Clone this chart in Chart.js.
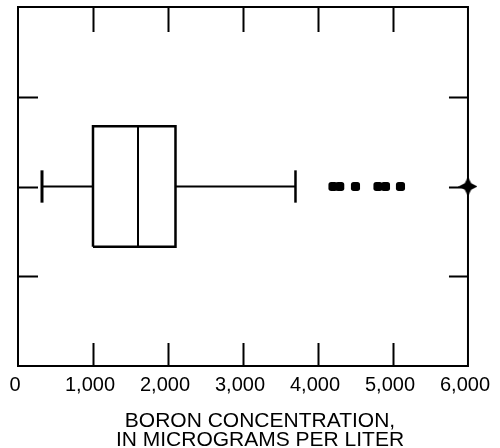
<!DOCTYPE html>
<html>
<head>
<meta charset="utf-8">
<script src="https://cdn.jsdelivr.net/npm/chart.js@4"></script>
<style>
  html, body { margin: 0; padding: 0; background: #fff; }
  #wrap { width: 500px; height: 448px; }
</style>
</head>
<body>
<div id="wrap"><canvas id="chart"></canvas></div>
<script>
// Boron concentration, in micrograms per liter
const xTickValues = [0, 1000, 2000, 3000, 4000, 5000, 6000];
const xTickLabels = ['0', '1,000', '2,000', '3,000', '4,000', '5,000', '6,000'];
const axisTitle = ['BORON CONCENTRATION,', 'IN MICROGRAMS PER LITER'];

// Box plot summary
const whiskerLow = 320;
const quartile1 = 1000;
const median = 1600;
const quartile3 = 2100;
const whiskerHigh = 3700;
const outliers = [4200, 4290, 4500, 4800, 4900, 5100];
const extremes = [6000];

// Layout of the single box on a 0..4 vertical scale
const ROW = 2;
const BOX_HALF = 0.67;
const CAP_HALF = 0.18;
const sideTicks = [1, 2, 3];

const FONT = "'Liberation Sans', Arial, Helvetica, sans-serif";

/**
 * Four pointed star used for the extreme value
 */
function makeStar(size) {
    const c = document.createElement('canvas');
    c.width = size;
    c.height = size;
    const g = c.getContext('2d');
    const m = size / 2;
    const k = size * 0.17;
    g.beginPath();
    g.moveTo(m, 0);
    g.lineTo(m + k, m - k);
    g.lineTo(size, m);
    g.lineTo(m + k, m + k);
    g.lineTo(m, size);
    g.lineTo(m - k, m + k);
    g.lineTo(0, m);
    g.lineTo(m - k, m - k);
    g.closePath();
    g.fillStyle = '#000';
    g.fill();
    return c;
}

function segment(points, width) {
    return {
        data: points,
        showLine: true,
        borderColor: '#000',
        borderWidth: width,
        pointRadius: 0,
        tension: 0,
        borderJoinStyle: 'miter',
        clip: false
    };
}

// Frame, inward tick marks and the two-line axis title
const framePlugin = {
    id: 'framePlugin',
    afterDatasetsDraw(chart) {
        const ctx = chart.ctx;
        const a = chart.chartArea;
        const xs = chart.scales.x;
        const ys = chart.scales.y;
        ctx.save();
        ctx.strokeStyle = '#000';
        ctx.lineWidth = 2;
        ctx.strokeRect(a.left, a.top, a.right - a.left, a.bottom - a.top);

        ctx.beginPath();
        xTickValues.slice(1, -1).forEach(v => {
            const px = Math.round(xs.getPixelForValue(v)) + 0.5;
            ctx.moveTo(px, a.top);
            ctx.lineTo(px, a.top + 25);
            ctx.moveTo(px, a.bottom);
            ctx.lineTo(px, a.bottom - 23);
        });
        sideTicks.forEach(v => {
            const py = Math.round(ys.getPixelForValue(v)) + 0.5;
            ctx.moveTo(a.left, py);
            ctx.lineTo(a.left + 20, py);
            ctx.moveTo(a.right, py);
            ctx.lineTo(a.right - 19, py);
        });
        ctx.stroke();

        ctx.fillStyle = '#000';
        ctx.font = '21px ' + FONT;
        ctx.textAlign = 'center';
        ctx.textBaseline = 'alphabetic';
        ctx.fillText(axisTitle[0], 260, 427);
        ctx.fillText(axisTitle[1], 260, 446);
        ctx.restore();
    }
};

document.addEventListener('DOMContentLoaded', function() {
    const ctx = document.getElementById('chart');

    const boxOutline = [
        { x: quartile1, y: ROW - BOX_HALF },
        { x: quartile3, y: ROW - BOX_HALF },
        { x: quartile3, y: ROW + BOX_HALF },
        { x: quartile1, y: ROW + BOX_HALF },
        { x: quartile1, y: ROW - BOX_HALF }
    ];

    new Chart(ctx, {
        type: 'scatter',
        data: {
            datasets: [
                segment(boxOutline, 2.5),
                segment([{ x: median, y: ROW - BOX_HALF }, { x: median, y: ROW + BOX_HALF }], 2),
                segment([{ x: whiskerLow, y: ROW }, { x: quartile1, y: ROW }], 2),
                segment([{ x: quartile3, y: ROW }, { x: whiskerHigh, y: ROW }], 2),
                segment([{ x: whiskerLow, y: ROW - CAP_HALF }, { x: whiskerLow, y: ROW + CAP_HALF }], 3),
                segment([{ x: whiskerHigh, y: ROW - CAP_HALF }, { x: whiskerHigh, y: ROW + CAP_HALF }], 2.5),
                {
                    data: outliers.map(v => ({ x: v, y: ROW })),
                    pointStyle: 'rectRounded',
                    pointRadius: 5.3,
                    backgroundColor: '#000',
                    borderColor: '#000',
                    borderWidth: 0,
                    clip: false
                },
                {
                    data: extremes.map(v => ({ x: v, y: ROW })),
                    pointStyle: makeStar(19),
                    pointRadius: 9,
                    clip: false
                }
            ]
        },
        options: {
            responsive: true,
            maintainAspectRatio: false,
            animation: false,
            layout: {
                autoPadding: false,
                padding: { left: 18, right: 31, top: 7, bottom: 46 }
            },
            plugins: {
                legend: { display: false },
                tooltip: { enabled: false }
            },
            scales: {
                x: {
                    type: 'linear',
                    min: 0,
                    max: 6000,
                    afterBuildTicks: (scale) => {
                        scale.ticks = xTickValues.map(v => ({ value: v }));
                    },
                    afterFit: (scale) => {
                        scale.height = 36;
                    },
                    grid: { display: false, drawTicks: false },
                    border: { display: false },
                    ticks: {
                        autoSkip: false,
                        maxRotation: 0,
                        padding: 7,
                        labelOffset: -3,
                        color: '#000',
                        font: { family: FONT, size: 20 },
                        callback: (value, index) => xTickLabels[index]
                    }
                },
                y: {
                    type: 'linear',
                    min: 0,
                    max: 4,
                    display: false
                }
            }
        },
        plugins: [framePlugin]
    });
});
</script>
</body>
</html>
